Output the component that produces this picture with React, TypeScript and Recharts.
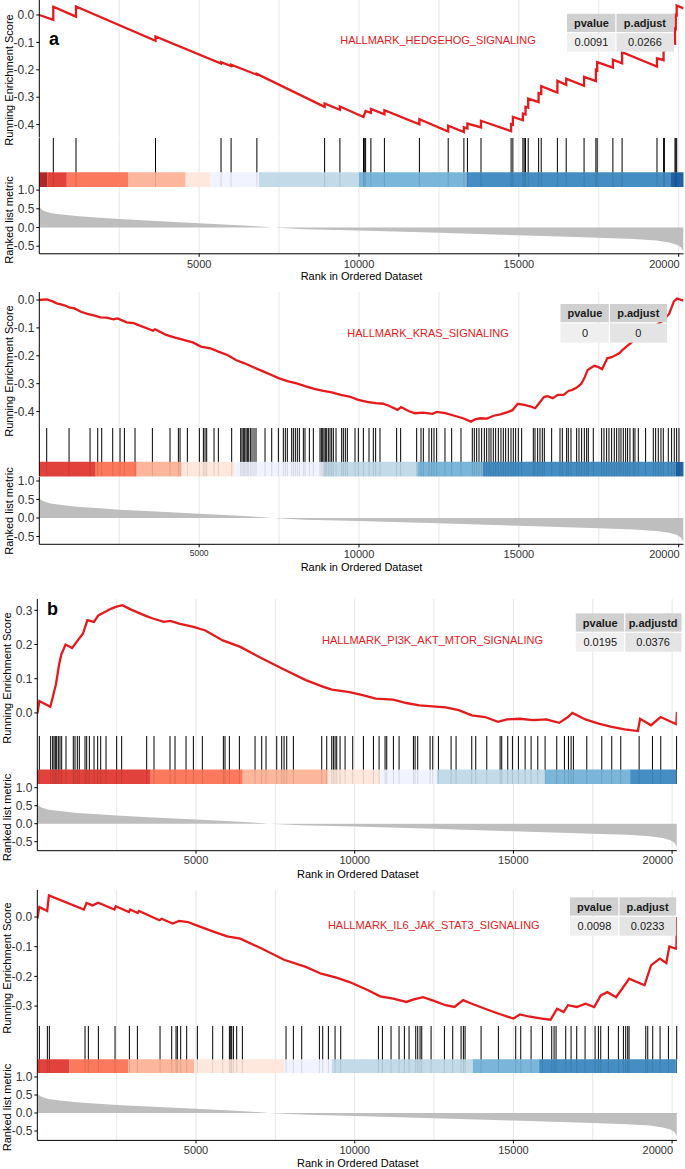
import React from 'react';
import {
  LineChart, Line, XAxis, YAxis, CartesianGrid, ComposedChart,
  ReferenceLine, ReferenceArea, AreaChart, Area,
} from 'recharts';

// ---------------- data ----------------
const N_GENES = 20150;
const GRID_TICKS = [2500, 5000, 7500, 10000, 12500, 15000, 17500, 20000];
const X_TICKS = [5000, 10000, 15000, 20000];
const RANK_TICKS = [-0.5, 0, 0.5, 1];

const GENE_SETS = ['HALLMARK_HEDGEHOG_SIGNALING', 'HALLMARK_KRAS_SIGNALING', 'HALLMARK_PI3K_AKT_MTOR_SIGNALING', 'HALLMARK_IL6_JAK_STAT3_SIGNALING'];
const PVALUES = ['0.0091', '0', '0.0195', '0.0098'];
const PADJUST = ['0.0266', '0', '0.0376', '0.0233'];
const PADJ_HEADERS = ['p.adjust', 'p.adjust', 'p.adjustd', 'p.adjust'];
const PANEL_LETTERS = ['a', '', 'b', ''];

const ES_TICKS_1 = [-0.4, -0.3, -0.2, -0.1, 0];
const ES_TICKS_2 = [-0.4, -0.3, -0.2, -0.1, 0];
const ES_TICKS_3 = [0, 0.1, 0.2, 0.3];
const ES_TICKS_4 = [-0.3, -0.2, -0.1, 0];

// ranked list metric (shared ranked gene list)
const RANK_X = [0, 40, 130, 350, 700, 1250, 1900, 2500, 3500, 5000, 6100, 6900, 7300, 8300, 10000, 12500, 15000, 17500, 18600, 19300, 19700, 19950, 20070, 20120, 20150];
const RANK_Y = [0.56, 0.5, 0.45, 0.39, 0.35, 0.3, 0.26, 0.225, 0.18, 0.115, 0.07, 0.025, 0, -0.045, -0.08, -0.143, -0.21, -0.276, -0.31, -0.35, -0.4, -0.46, -0.53, -0.6, -0.66];

// running enrichment score [rank, score]
const ES_HEDGEHOG = [
  [0, 0.0], [438, -0.018], [438, 0.030], [1148, -0.006], [1148, 0.031], [3635, -0.094], [3635, -0.078],
  [5684, -0.177], [5684, -0.172], [5999, -0.186], [5999, -0.181], [6806, -0.218], [6806, -0.215],
  [8924, -0.335], [8924, -0.323], [9403, -0.346], [9403, -0.334], [10141, -0.372], [10207, -0.350],
  [10372, -0.357], [10372, -0.343], [10795, -0.362], [10795, -0.347], [11889, -0.399], [11889, -0.380],
  [12790, -0.425], [12790, -0.404], [13281, -0.427], [13281, -0.410], [13391, -0.414], [13391, -0.396],
  [13816, -0.410], [13816, -0.386], [14758, -0.424], [14758, -0.398], [14813, -0.400], [14813, -0.372],
  [15127, -0.384], [15127, -0.360], [15208, -0.363], [15208, -0.335], [15292, -0.338], [15292, -0.305],
  [15618, -0.318], [15618, -0.285], [15700, -0.288], [15700, -0.260], [16205, -0.283], [16205, -0.240],
  [16481, -0.255], [16481, -0.232], [17040, -0.258], [17040, -0.226], [17410, -0.241], [17410, -0.200],
  [17450, -0.202], [17450, -0.172], [17941, -0.192], [17941, -0.163], [18229, -0.176], [18229, -0.136],
  [19321, -0.188], [19321, -0.158], [19527, -0.165], [19527, -0.128], [19553, -0.129], [19553, -0.093],
  [19884, -0.105], [19884, -0.050], [19909, -0.051], [19909, 0.0], [19937, -0.001], [19937, 0.035], [20150, 0.024],
];
const ES_KRAS = [
  [0, 0], [233, 0.002], [400, -0.004], [547, -0.012], [760, -0.018], [957, -0.027], [1100, -0.03], [1300, -0.042],
  [1504, -0.05], [1700, -0.055], [1914, -0.062], [2100, -0.063], [2324, -0.069], [2450, -0.066], [2734, -0.08],
  [2950, -0.083], [3144, -0.092], [3400, -0.103], [3554, -0.11], [3620, -0.105], [3964, -0.125], [4250, -0.135],
  [4511, -0.143], [4800, -0.152], [5057, -0.167], [5350, -0.173], [5604, -0.185], [5900, -0.198], [6150, -0.215],
  [6420, -0.227], [6697, -0.241], [7000, -0.256], [7244, -0.268], [7500, -0.281], [7790, -0.292], [8050, -0.299],
  [8337, -0.31], [8600, -0.319], [8884, -0.326], [9150, -0.331], [9430, -0.34], [9700, -0.346], [9977, -0.358],
  [10250, -0.365], [10524, -0.37], [10750, -0.372], [10934, -0.379], [11207, -0.394], [11316, -0.384],
  [11550, -0.398], [11754, -0.406], [12000, -0.404], [12300, -0.408], [12437, -0.401], [12700, -0.406],
  [12983, -0.415], [13257, -0.424], [13503, -0.436], [13650, -0.427], [13803, -0.424], [14000, -0.425],
  [14213, -0.415], [14420, -0.41], [14623, -0.403], [14800, -0.395], [14965, -0.372], [15170, -0.376],
  [15350, -0.381], [15511, -0.388], [15620, -0.372], [15785, -0.348], [15900, -0.345], [16058, -0.352],
  [16220, -0.34], [16400, -0.34], [16550, -0.326], [16673, -0.322], [16800, -0.315], [16947, -0.301],
  [17050, -0.28], [17152, -0.251], [17357, -0.236], [17480, -0.24], [17603, -0.248], [17767, -0.209],
  [17900, -0.205], [18040, -0.197], [18150, -0.19], [18245, -0.179], [18700, -0.135], [19100, -0.105],
  [19500, -0.075], [19700, -0.05], [19850, -0.005], [19950, 0.005], [20150, -0.002],
];
const ES_PI3K = [
  [0, -0.002], [64, 0.035], [408, 0.018], [476, 0.042], [587, 0.084], [683, 0.14], [752, 0.17], [889, 0.2],
  [1096, 0.19], [1275, 0.212], [1440, 0.232], [1578, 0.271], [1784, 0.266], [1922, 0.285], [2128, 0.295],
  [2335, 0.305], [2473, 0.31], [2679, 0.315], [2954, 0.302], [3436, 0.283], [3643, 0.276], [3987, 0.266],
  [4193, 0.269], [4468, 0.261], [4950, 0.251], [5294, 0.241], [5845, 0.212], [6395, 0.193], [7084, 0.159],
  [7772, 0.127], [8460, 0.096], [9011, 0.076], [9286, 0.068], [9837, 0.061], [10250, 0.052], [10663, 0.042],
  [11213, 0.039], [11626, 0.029], [12039, 0.022], [12452, 0.019], [12865, 0.016], [13278, 0.008], [13691, -0.007],
  [14104, -0.012], [14517, -0.026], [14792, -0.019], [15205, -0.017], [15618, -0.021], [16031, -0.019],
  [16444, -0.029], [16719, -0.012], [16857, 0.0], [17270, -0.019], [17683, -0.031], [18096, -0.041],
  [18509, -0.048], [18922, -0.053], [18991, -0.017], [19335, -0.036], [19638, -0.012], [20134, -0.033], [20150, 0.003],
];
const ES_IL6 = [
  [0, -0.006], [64, 0.034], [311, 0.02], [366, 0.073], [1467, 0.025], [1550, 0.047], [1743, 0.039], [1922, 0.048],
  [2431, 0.025], [2473, 0.036], [2886, 0.017], [2927, 0.025], [3161, 0.013], [3202, 0.02], [3849, -0.011],
  [3918, -0.006], [4262, -0.022], [4468, -0.013], [4744, -0.017], [5019, -0.028], [5569, -0.05], [5982, -0.065],
  [6395, -0.073], [7084, -0.107], [7772, -0.144], [8460, -0.168], [8942, -0.191], [9424, -0.204], [9837, -0.219],
  [10388, -0.245], [10801, -0.267], [11213, -0.275], [11626, -0.286], [11833, -0.278], [12150, -0.27], [12452, -0.281],
  [12865, -0.297], [13141, -0.303], [13416, -0.28], [13691, -0.292], [14104, -0.309], [14517, -0.325], [14999, -0.342],
  [15205, -0.328], [15481, -0.335], [15894, -0.342], [16169, -0.346], [16376, -0.309], [16582, -0.32], [16719, -0.297],
  [16995, -0.303], [17270, -0.292], [17545, -0.303], [17752, -0.264], [17958, -0.253], [18234, -0.27], [18647, -0.208],
  [19129, -0.23], [19335, -0.163], [19610, -0.14], [19817, -0.155], [19913, -0.099], [20134, -0.107], [20150, 0.0],
];

// gene-set hit positions (rank)
const HITS_HEDGEHOG = [438, 1148, 3635, 5684, 5999, 6806, 8924, 9403, 10141, 10166, 10207, 10372, 10795, 11889, 12790, 13281, 13391, 13816, 14758, 14813, 15127, 15167, 15208, 15292, 15618, 15700, 16205, 16481, 17040, 17410, 17450, 17941, 18229, 19321, 19527, 19553, 19884, 19909, 19937];
const HITS_KRAS = [230, 929, 1586, 1826, 1951, 2295, 2524, 2660, 2993, 3536, 4088, 4349, 4401, 4630, 5006, 5131, 5183, 5235, 5465, 5600, 6017, 6299, 6340, 6382, 6424, 6466, 6507, 6549, 6601, 6653, 6716, 6778, 7060, 7269, 7477, 7633, 7696, 7758, 7894, 7946, 8009, 8071, 8134, 8259, 8311, 8447, 8572, 8780, 8822, 8864, 8905, 8947, 8989, 9041, 9093, 9145, 9197, 9281, 9458, 9510, 9573, 9635, 9875, 9979, 10136, 10313, 10448, 10521, 10657, 11178, 11303, 11804, 11940, 12013, 12190, 12273, 12346, 12430, 12690, 12899, 13191, 13545, 13608, 13681, 13754, 13837, 13921, 13994, 14067, 14129, 14202, 14275, 14359, 14442, 14515, 14588, 14671, 14755, 14828, 14901, 14984, 15089, 15453, 15506, 15589, 15662, 15735, 15798, 16027, 16288, 16361, 16496, 16548, 16632, 16809, 16882, 16965, 17049, 17122, 17174, 17330, 17591, 17664, 17747, 17820, 17904, 17987, 18060, 18133, 18196, 18269, 18342, 18404, 18477, 18581, 18633, 18738, 18967, 19207, 19280, 19363, 19447, 19520, 19676, 19780, 19864, 19937, 20010];
const HITS_PI3K = [64, 421, 484, 526, 568, 610, 663, 715, 768, 904, 1135, 1188, 1261, 1324, 1503, 1556, 1640, 1787, 1902, 1997, 2165, 2501, 2658, 3446, 3677, 4181, 4339, 4686, 4917, 5200, 5862, 5914, 6051, 6366, 6860, 7070, 7206, 7543, 7700, 7774, 7858, 8067, 8960, 9118, 9276, 9328, 9381, 9433, 9538, 9696, 9937, 10274, 10589, 10767, 10956, 11009, 11219, 11397, 11849, 11902, 11985, 12374, 12458, 12637, 13036, 13193, 13687, 13813, 14160, 14580, 14632, 14821, 14968, 15157, 15368, 15557, 15767, 15998, 16365, 16607, 16733, 16817, 16890, 17311, 17783, 18098, 18382, 18960, 19380, 19642, 20140];
const HITS_IL6 = [64, 316, 379, 1503, 1608, 1923, 2448, 2900, 3152, 3866, 4234, 4370, 4412, 4517, 4706, 5042, 5525, 5840, 6051, 6093, 6124, 6177, 6282, 6460, 7836, 8067, 8330, 8887, 8992, 9170, 9381, 9559, 10746, 10872, 11145, 11397, 11565, 11712, 11923, 11986, 12059, 12112, 12406, 12826, 13088, 13351, 13424, 13477, 13981, 14527, 15073, 15231, 15557, 15914, 16208, 16281, 16344, 16649, 16817, 16995, 17258, 17573, 17678, 17752, 17993, 18308, 18466, 18539, 18602, 18644, 19170, 19233, 19390, 19621, 19884, 20146];

// colour-bar bin boundaries (rank) and bin levels (1 = most blue, 10 = most red)
const BAR_EDGES_HEDGEHOG = [0, 247, 860, 2775, 4577, 5356, 6872, 10000, 13359, 19737, 20150];
const BAR_LEVELS_HEDGEHOG = [10, 9, 8, 7, 6, 5, 4, 3, 2, 1];
const BAR_EDGES_KRAS = [0, 1764, 3046, 4454, 6090, 8884, 11824, 13870, 19900, 20150];
const BAR_LEVELS_KRAS = [9, 8, 7, 6, 5, 4, 3, 2, 1];
const BAR_EDGES_PI3K = [0, 3573, 6471, 9150, 10799, 12585, 15997, 18676, 20100, 20150];
const BAR_LEVELS_PI3K = [9, 8, 7, 6, 5, 4, 3, 2, 1];
const BAR_EDGES_IL6 = [0, 1008, 2868, 4937, 7774, 9276, 13718, 15809, 20110, 20150];
const BAR_LEVELS_IL6 = [9, 8, 7, 6, 5, 4, 3, 2, 1];

// ---------------- styles / layout ----------------
const FONT = '"Liberation Sans", Arial, Helvetica, sans-serif';
const RED = '#E41A1C';
const TICK_COLOR = '#333333';
const GRID_COLOR = '#E6E6E6';
const LEVEL_COLORS: Record<number, string> = {
  1: '#08519C', 2: '#3182BD', 3: '#6BAED6', 4: '#BDD7E7', 5: '#EFF3FF',
  6: '#FEE5D9', 7: '#FCAE91', 8: '#FB6A4A', 9: '#DE2D26', 10: '#A50F15',
};
const W = 685;
const RANK_PAD = 8;

const LAYOUTS = [
  { L: 39.3, R: 1.5, esTop: 0, hitsTop: 137.5, rankTop: 186.5, rankPlotBottom: 253.3, esMax: 0.0547, esMin: -0.447, rankMax: 1.083, rankMin: -0.703,
    nameX: 438, nameY: 40, tx: [567, 615.9, 674], ty: [13.8, 32.6, 51.7], letterX: 49, letterY: 45, titleX: 8.5, resY: 80, rlmY: 220, xTitleX: 361.5, xTitleY: 276, small5000: false },
  { L: 39.3, R: 1.5, esTop: 292, hitsTop: 428.3, rankTop: 476.7, rankPlotBottom: 544, esMax: 0.0287, esMin: -0.46, rankMax: 1.108, rankMin: -0.711,
    nameX: 428, nameY: 332.7, tx: [560.5, 609.4, 667.1], ty: [304, 322.8, 342.7], letterX: 0, letterY: 0, titleX: 8.5, resY: 371, rlmY: 511, xTitleX: 361.5, xTitleY: 566.7, small5000: true },
  { L: 37.3, R: 8.1, esTop: 598.8, hitsTop: 736, rankTop: 784, rankPlotBottom: 850.7, esMax: 0.333, esMin: -0.068, rankMax: 1.103, rankMin: -0.75,
    nameX: 432.5, nameY: 640, tx: [575.8, 624.7, 681.5], ty: [613.3, 632.2, 651.7], letterX: 47, letterY: 615, titleX: 6.5, resY: 678, rlmY: 817.5, xTitleX: 357.8, xTitleY: 874, small5000: false },
  { L: 37.3, R: 8.1, esTop: 889.7, hitsTop: 1025.7, rankTop: 1073.3, rankPlotBottom: 1140.7, esMax: 0.0909, esMin: -0.367, rankMax: 1.111, rankMin: -0.761,
    nameX: 433.8, nameY: 925, tx: [570, 618.9, 676.2], ty: [897.3, 916.2, 935.7], letterX: 0, letterY: 0, titleX: 6.5, resY: 968, rlmY: 1107.5, xTitleX: 357.8, xTitleY: 1163.3, small5000: false },
];
const X_AXIS_H = 26;

const PANELS = [
  { es: ES_HEDGEHOG, hits: HITS_HEDGEHOG, edges: BAR_EDGES_HEDGEHOG, levels: BAR_LEVELS_HEDGEHOG, esTicks: ES_TICKS_1 },
  { es: ES_KRAS, hits: HITS_KRAS, edges: BAR_EDGES_KRAS, levels: BAR_LEVELS_KRAS, esTicks: ES_TICKS_2 },
  { es: ES_PI3K, hits: HITS_PI3K, edges: BAR_EDGES_PI3K, levels: BAR_LEVELS_PI3K, esTicks: ES_TICKS_3 },
  { es: ES_IL6, hits: HITS_IL6, edges: BAR_EDGES_IL6, levels: BAR_LEVELS_IL6, esTicks: ES_TICKS_4 },
];

const fmt1 = (v: number) => v.toFixed(1);

// vertical grid at every 2500 ranks, positioned by the axis scale
const gridGen = (props: any) => {
  const xAxis = props && props.xAxis;
  const offset = (props && props.offset) || {};
  if (xAxis && typeof xAxis.scale === 'function') return GRID_TICKS.map((t) => xAxis.scale(t));
  const left = offset.left || 0;
  const width = offset.width || 0;
  return GRID_TICKS.map((t) => left + (t / N_GENES) * width);
};

function makeXTick(small5000: boolean) {
  return (props: any) => {
    const { x, y, payload } = props;
    const v = payload.value;
    const last = v === 20000;
    const fs = small5000 && v === 5000 ? 8.5 : 11;
    return (
      <text x={last ? x + 1 : x} y={y} dy="0.71em" textAnchor={last ? 'end' : 'middle'} fontSize={fs} fill={TICK_COLOR} fontFamily={FONT}>
        {v}
      </text>
    );
  };
}

const rankData = RANK_X.map((x, i) => ({ x, y: RANK_Y[i] }));

function GseaPanel({ idx }: { idx: number }) {
  const p = PANELS[idx];
  const lay = LAYOUTS[idx];
  const esData = p.es.map(([x, y]) => ({ x, y }));
  const hitData = p.hits.map((h) => ({ x: h }));
  const margin = { top: 0, right: lay.R, bottom: 0, left: 0 };
  const gridAxis = (
    <XAxis xAxisId="g" type="number" dataKey="x" domain={[0, N_GENES]} ticks={GRID_TICKS} height={0}
      tick={false} axisLine={false} tickLine={false} allowDataOverflow interval={0} />
  );
  const yTick = { fill: TICK_COLOR, fontSize: 12, fontFamily: FONT };
  return (
    <>
      <div style={{ position: 'absolute', left: 0, top: lay.esTop }}>
        <LineChart width={W} height={lay.hitsTop - lay.esTop} data={esData} margin={margin}>
          <CartesianGrid xAxisId="g" horizontal={false} stroke={GRID_COLOR} strokeWidth={1} verticalCoordinatesGenerator={gridGen} />
          {gridAxis}
          <YAxis type="number" domain={[lay.esMin, lay.esMax]} ticks={p.esTicks} width={lay.L} allowDataOverflow
            tickFormatter={fmt1} tick={yTick} tickSize={3} tickMargin={2} interval={0}
            axisLine={{ stroke: '#000', strokeWidth: 1 }} tickLine={{ stroke: '#000' }} />
          <Line xAxisId="g" type="linear" dataKey="y" stroke={RED} strokeWidth={2.3} dot={false} isAnimationActive={false} />
        </LineChart>
      </div>
      <div style={{ position: 'absolute', left: 0, top: lay.hitsTop }}>
        <ComposedChart width={W} height={lay.rankTop - lay.hitsTop} data={hitData} margin={margin}>
          <CartesianGrid xAxisId="g" horizontal={false} stroke={GRID_COLOR} strokeWidth={1} verticalCoordinatesGenerator={gridGen} />
          {gridAxis}
          <YAxis type="number" domain={[0, 1]} width={lay.L} tick={false} tickLine={false} allowDataOverflow
            axisLine={{ stroke: '#000', strokeWidth: 1 }} />
          {p.hits.map((h, i) => (
            <ReferenceLine key={'h' + i} xAxisId="g" segment={[{ x: h, y: 0.3 }, { x: h, y: 1 }]} stroke="#000" strokeWidth={1} />
          ))}
          {p.levels.map((lv, i) => (
            <ReferenceArea key={'b' + i} xAxisId="g" x1={p.edges[i]} x2={p.edges[i + 1]} y1={0} y2={0.3}
              fill={LEVEL_COLORS[lv]} fillOpacity={0.9} stroke="none" />
          ))}
          {p.hits.map((h, i) => (
            <ReferenceLine key={'s' + i} xAxisId="g" segment={[{ x: h, y: 0 }, { x: h, y: 0.3 }]} stroke="#000" strokeOpacity={0.12} strokeWidth={1} />
          ))}
        </ComposedChart>
      </div>
      <div style={{ position: 'absolute', left: 0, top: lay.rankTop - RANK_PAD }}>
        <AreaChart width={W} height={lay.rankPlotBottom - lay.rankTop + X_AXIS_H + RANK_PAD} data={rankData}
          margin={{ top: RANK_PAD, right: lay.R, bottom: 0, left: 0 }}>
          <CartesianGrid xAxisId="main" horizontal={false} stroke={GRID_COLOR} strokeWidth={1} verticalCoordinatesGenerator={gridGen} />
          <XAxis xAxisId="main" type="number" dataKey="x" domain={[0, N_GENES]} ticks={X_TICKS} height={X_AXIS_H}
            allowDataOverflow interval={0} tick={makeXTick(lay.small5000)} tickSize={3} tickMargin={3}
            axisLine={{ stroke: '#000', strokeWidth: 1 }} tickLine={{ stroke: '#000' }} />
          <YAxis type="number" domain={[lay.rankMin, lay.rankMax]} ticks={RANK_TICKS} width={lay.L} allowDataOverflow
            tickFormatter={fmt1} tick={yTick} tickSize={3} tickMargin={2} interval={0}
            axisLine={{ stroke: '#000', strokeWidth: 1 }} tickLine={{ stroke: '#000' }} />
          <Area xAxisId="main" type="linear" dataKey="y" baseValue={0} stroke="none" fill="#BEBEBE" fillOpacity={1} isAnimationActive={false} />
        </AreaChart>
      </div>
    </>
  );
}

function Annotations() {
  return (
    <svg width={W} height={1169} style={{ position: 'absolute', left: 0, top: 0, pointerEvents: 'none' }} fontFamily={FONT}>
      {LAYOUTS.map((lay, i) => {
        const [x1, x2, x3] = lay.tx;
        const [y1, y2, y3] = lay.ty;
        return (
          <g key={i}>
            <text x={lay.nameX} y={lay.nameY} textAnchor="middle" dominantBaseline="central" fill={RED} fontSize={11}>{GENE_SETS[i]}</text>
            <rect x={x1} y={y1} width={x2 - x1 - 0.6} height={y2 - y1 - 0.6} fill="#D0D0D0" />
            <rect x={x2 + 0.6} y={y1} width={x3 - x2 - 0.6} height={y2 - y1 - 0.6} fill="#D0D0D0" />
            <rect x={x1} y={y2 + 0.6} width={x2 - x1 - 0.6} height={y3 - y2 - 0.6} fill="#EFEFEF" />
            <rect x={x2 + 0.6} y={y2 + 0.6} width={x3 - x2 - 0.6} height={y3 - y2 - 0.6} fill="#E4E4E4" />
            <text x={(x1 + x2) / 2} y={(y1 + y2) / 2} textAnchor="middle" dominantBaseline="central" fontSize={11} fontWeight="bold" fill="#1A1A1A">pvalue</text>
            <text x={(x2 + x3) / 2} y={(y1 + y2) / 2} textAnchor="middle" dominantBaseline="central" fontSize={11} fontWeight="bold" fill="#1A1A1A">{PADJ_HEADERS[i]}</text>
            <text x={(x1 + x2) / 2} y={(y2 + y3) / 2} textAnchor="middle" dominantBaseline="central" fontSize={11} fill="#1A1A1A">{PVALUES[i]}</text>
            <text x={(x2 + x3) / 2} y={(y2 + y3) / 2} textAnchor="middle" dominantBaseline="central" fontSize={11} fill="#1A1A1A">{PADJUST[i]}</text>
            {PANEL_LETTERS[i] ? (
              <text x={lay.letterX} y={lay.letterY} fontSize={18} fontWeight="bold" fill="#000">{PANEL_LETTERS[i]}</text>
            ) : null}
            <text transform={`translate(${lay.titleX},${lay.resY}) rotate(-90)`} textAnchor="middle" dominantBaseline="central" fontSize={11} fill="#000">Running Enrichment Score</text>
            <text transform={`translate(${lay.titleX},${lay.rlmY}) rotate(-90)`} textAnchor="middle" dominantBaseline="central" fontSize={11} fill="#000">Ranked list metric</text>
            <text x={lay.xTitleX} y={lay.xTitleY} textAnchor="middle" dominantBaseline="central" fontSize={11} fill="#000">Rank in Ordered Dataset</text>
          </g>
        );
      })}
    </svg>
  );
}

export default function App() {
  return (
    <div style={{ position: 'absolute', left: 0, top: 0, width: W, height: 1169, background: '#fff', overflow: 'hidden', fontFamily: FONT }}>
      {PANELS.map((_, i) => <GseaPanel key={i} idx={i} />)}
      <Annotations />
    </div>
  );
}
